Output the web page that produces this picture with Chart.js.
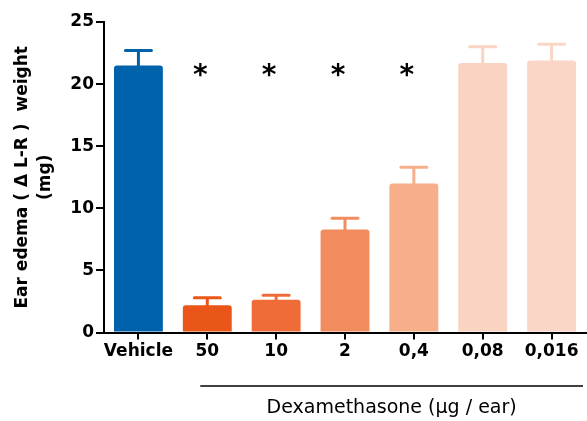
<!DOCTYPE html>
<html>
<head>
<meta charset="utf-8">
<script src="https://cdn.jsdelivr.net/npm/chart.js@4"></script>
<style>
  html, body { margin: 0; padding: 0; background: #fff; }
  #wrap { width: 587px; height: 421px; }
</style>
</head>
<body>
<div id="wrap"><canvas id="edemaChart" width="587" height="421"></canvas></div>
<script>
const categories = ['Vehicle', '50', '10', '2', '0,4', '0,08', '0,016'];
const means = [21.5, 2.2, 2.65, 8.3, 12.0, 21.7, 21.9];
const sem = [1.2, 0.6, 0.35, 0.9, 1.3, 1.3, 1.3];
const significant = [false, true, true, true, true, false, false];
const barColors = ['#0062ab', '#e95618', '#ef6c38', '#f28c5f', '#f7ae8b', '#fad4c3', '#fad6c6'];
const yTicks = [0, 5, 10, 15, 20, 25];

const errorBars = {
  id: 'errorBars',
  afterDatasetsDraw(chart) {
    const ctx = chart.ctx;
    const y = chart.scales.y;
    const meta = chart.getDatasetMeta(0);
    ctx.save();
    ctx.lineWidth = 3;
    ctx.lineCap = 'round';
    meta.data.forEach((bar, i) => {
      const top = y.getPixelForValue(means[i] + sem[i]);
      ctx.strokeStyle = barColors[i];
      ctx.beginPath();
      ctx.moveTo(bar.x, bar.y);
      ctx.lineTo(bar.x, top);
      ctx.moveTo(bar.x - 13, top);
      ctx.lineTo(bar.x + 13, top);
      ctx.stroke();
    });
    // asterisks
    ctx.fillStyle = '#000';
    ctx.font = 'bold 28px "DejaVu Sans"';
    ctx.textAlign = 'center';
    ctx.textBaseline = 'middle';
    meta.data.forEach((bar, i) => {
      if (significant[i]) ctx.fillText('*', bar.x - 7, y.getPixelForValue(20.6));
    });
    ctx.restore();
  }
};

const treatmentLabel = {
  id: 'treatmentLabel',
  afterDraw(chart) {
    const ctx = chart.ctx;
    const x = chart.scales.x;
    const x0 = x.getPixelForValue(1) - 7;
    const x1 = chart.chartArea.right - 3;
    ctx.save();
    ctx.strokeStyle = '#000';
    ctx.lineWidth = 1.5;
    ctx.beginPath();
    ctx.moveTo(x0, 386);
    ctx.lineTo(x1, 386);
    ctx.stroke();
    ctx.fillStyle = '#000';
    ctx.font = '19px "DejaVu Sans"';
    ctx.textAlign = 'center';
    ctx.textBaseline = 'middle';
    ctx.fillText('Dexamethasone (\u03bcg / ear)', (x0 + x1) / 2, 408);
    ctx.restore();
  }
};

const ctx = document.getElementById('edemaChart').getContext('2d');
const chart = new Chart(ctx, {
  type: 'bar',
  data: {
    labels: categories,
    datasets: [{
      data: means,
      backgroundColor: barColors,
      borderWidth: 0,
      borderRadius: { topLeft: 3, topRight: 3 },
      borderSkipped: 'bottom',
      barPercentage: 0.71,
      categoryPercentage: 1
    }]
  },
  options: {
    responsive: false,
    animation: false,
    layout: { padding: { top: 22, right: 1, bottom: 57, left: 0 } },
    plugins: {
      legend: { display: false },
      tooltip: { enabled: false }
    },
    scales: {
      x: {
        grid: { display: true, drawOnChartArea: false, offset: false, tickLength: 7, color: '#000', lineWidth: 2 },
        border: { color: '#000', width: 2 },
        ticks: { color: '#000', font: { family: 'DejaVu Sans', size: 17, weight: 'bold' }, padding: 2, maxRotation: 0, autoSkip: false }
      },
      y: {
        min: 0,
        max: 25,
        afterBuildTicks(axis) { axis.ticks = yTicks.map(v => ({ value: v })); },
        afterFit(axis) { axis.width = 104; },
        grid: { display: true, drawOnChartArea: false, tickLength: 8, color: '#000', lineWidth: 2 },
        border: { color: '#000', width: 2 },
        ticks: { color: '#000', font: { family: 'DejaVu Sans', size: 17, weight: 'bold' }, padding: 2 },
        title: {
          display: true,
          text: ['Ear edema ( \u0394 L-R )  weight', '(mg)'],
          color: '#000',
          font: { family: 'DejaVu Sans', size: 17, weight: 'bold', lineHeight: 1.3 },
          padding: { top: 12, bottom: 0 }
        }
      }
    }
  },
  plugins: [errorBars, treatmentLabel]
});
</script>
</body>
</html>
